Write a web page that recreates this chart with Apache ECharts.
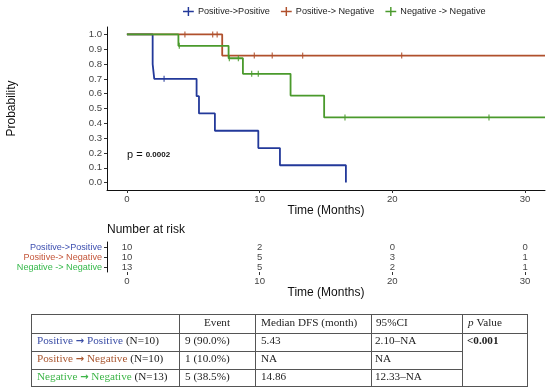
<!DOCTYPE html>
<html><head><meta charset="utf-8">
<script src="https://cdn.jsdelivr.net/npm/echarts@6/dist/echarts.min.js"></script>
<style>html,body{margin:0;padding:0;background:#fff}#c{width:550px;height:392px}</style>
</head><body><div id="c"></div>
<script>
// ---------- data ----------
const groups = ['Positive->Positive', 'Positive-> Negative', 'Negative -> Negative'];
// Kaplan-Meier step points [time (months), survival probability]
const stepsPP = [[0,1],[1.94,0.8],[2.06,0.7],[5.25,0.583],[5.43,0.467],[6.63,0.35],[9.9,0.233],[11.53,0.117],[16.5,0]];
const stepsPN = [[0,1],[7.18,0.857],[31.5,0.857]];
const stepsNN = [[0,1],[3.88,0.923],[7.66,0.839],[8.74,0.734],[12.33,0.587],[14.86,0.44],[31.5,0.44]];
// censor marks [time, survival]
const censorPP = [[2.8,0.7]];
const censorPN = [[4.37,1],[6.46,1],[6.8,1],[9.6,0.857],[10.95,0.857],[13.24,0.857],[20.7,0.857]];
const censorNN = [[3.95,0.923],[7.72,0.839],[8.4,0.839],[9.4,0.734],[9.9,0.734],[16.43,0.44],[27.28,0.44]];
const xTicks = [0, 10, 20, 30];
const yTicks = [0, 0.1, 0.2, 0.3, 0.4, 0.5, 0.6, 0.7, 0.8, 0.9, 1.0];
// number at risk
const riskTimes = [0, 10, 20, 30];
const riskPP = [10, 2, 0, 0];
const riskPN = [10, 5, 3, 1];
const riskNN = [13, 5, 2, 1];
const pText = '0.0002';
// summary table
const tableHeader = ['', 'Event', 'Median DFS (month)', '95%CI', 'p Value'];
const tableGroups = ['Positive \u2192 Positive', 'Positive \u2192 Negative', 'Negative \u2192 Negative'];
const tableN = ['(N=10)', '(N=10)', '(N=13)'];
const tableEvent = ['9 (90.0%)', '1 (10.0%)', '5 (38.5%)'];
const tableMedian = ['5.43', 'NA', '14.86'];
const tableCI = ['2.10\u2013NA', 'NA', '12.33\u2013NA'];
const tablePValue = '<0.001';

// ---------- styles ----------
const lineColors = ['#23399A', '#B0502C', '#4A9A2C'];
const riskColors = ['#3D4FB0', '#C4563A', '#35B84A'];
const tableColors = ['#3A4DA6', '#A8552E', '#3DB548'];
const SANS = 'Liberation Sans, Arial, sans-serif';
const SERIF = 'Liberation Serif, Times New Roman, serif';
const plus = 'path://M0,4.2 H12 V5.8 H0 Z M5.2,0 H6.8 V10 H5.2 Z';

const chart = echarts.init(document.getElementById('c'), null, {renderer: 'canvas'});

const stepData = [stepsPP, stepsPN, stepsNN];
const censorData = [censorPP, censorPN, censorNN];
const riskData = [riskPP, riskPN, riskNN];

const series = [];
groups.forEach((g, i) => {
  series.push({
    name: g, type: 'line', step: 'end', xAxisIndex: 0, yAxisIndex: 0,
    data: stepData[i], showSymbol: false, symbol: 'none',
    lineStyle: {color: lineColors[i], width: 1.8}, itemStyle: {color: lineColors[i]},
    animation: false, z: 2 + i
  });
});
groups.forEach((g, i) => {
  series.push({
    name: g + ' censor', type: 'scatter', xAxisIndex: 0, yAxisIndex: 0,
    data: censorData[i], symbol: 'rect', symbolSize: [1.3, 6],
    itemStyle: {color: lineColors[i]}, animation: false, z: 5 + i
  });
});
groups.forEach((g, i) => {
  series.push({
    name: g + ' risk', type: 'scatter', xAxisIndex: 1, yAxisIndex: 1,
    data: riskTimes.map((t, k) => [t, i, riskData[i][k]]),
    symbol: 'circle', symbolSize: 1, itemStyle: {color: 'rgba(0,0,0,0)'},
    animation: false, silent: true,
    label: {show: true, position: 'inside', formatter: p => String(p.value[2]),
      color: '#111', fontSize: 9.5, fontFamily: SANS}
  });
});

// table graphic
const colX = [31, 179, 255, 371, 462, 527];
const rowY = [314, 332.5, 350.5, 368.5, 386];
const gfx = [];
const stroke = {stroke: '#555', lineWidth: 1};
function hl(x1, x2, y) { gfx.push({type: 'line', shape: {x1, y1: Math.round(y) + 0.5, x2, y2: Math.round(y) + 0.5}, style: stroke, silent: true}); }
function vl(x, y1, y2) { gfx.push({type: 'line', shape: {x1: Math.round(x) + 0.5, y1, x2: Math.round(x) + 0.5, y2}, style: stroke, silent: true}); }
hl(colX[0], colX[5] + 1, rowY[0]);
hl(colX[0], colX[5] + 1, rowY[1]);
hl(colX[0], colX[4], rowY[2]);
hl(colX[0], colX[4], rowY[3]);
hl(colX[0], colX[5] + 1, rowY[4]);
colX.forEach(x => vl(x, rowY[0], rowY[4] + 1));
const FS = 11.2;
function txt(text, x, y, opt) {
  gfx.push({type: 'text', x, y, silent: true, style: Object.assign({text, fontSize: FS, fontFamily: SERIF, fill: '#222', align: 'left', verticalAlign: 'middle'}, opt || {})});
}
const hy = (rowY[0] + rowY[1]) / 2;
txt(tableHeader[1], (colX[1] + colX[2]) / 2, hy, {align: 'center'});
txt(tableHeader[2], colX[2] + 6, hy);
txt(tableHeader[3], colX[3] + 5, hy);
txt('{i|p} ' + tableHeader[4].replace('p ', ''), colX[4] + 6, hy, {rich: {i: {fontStyle: 'italic', fontSize: FS, fontFamily: SERIF, fill: '#222'}}});
for (let r = 0; r < 3; r++) {
  const y = (rowY[r + 1] + rowY[r + 2]) / 2;
  const parts = tableGroups[r].split(' \u2192 ');
  txt('{g|' + parts[0] + ' }{a|\u2192}{g| ' + parts[1] + '} {n|' + tableN[r] + '}', colX[0] + 6, y, {rich: {
    g: {fill: tableColors[r], fontSize: FS, fontFamily: SERIF},
    a: {fill: tableColors[r], fontSize: 10, fontWeight: 'bold', fontFamily: 'DejaVu Sans, sans-serif'},
    n: {fill: '#222', fontSize: FS, fontFamily: SERIF}}});
  txt(tableEvent[r], colX[1] + 6, y);
  txt(tableMedian[r], colX[2] + 6, y);
  txt(tableCI[r], colX[3] + 4, y);
}
txt(tablePValue, colX[4] + 5, (rowY[1] + rowY[2]) / 2, {fontWeight: 'bold'});
// p value in plot
gfx.push({type: 'text', x: 127, y: 155, silent: true, style: {text: '{a|p = }{b|' + pText + '}', verticalAlign: 'middle', align: 'left',
  rich: {a: {fontSize: 11, fontFamily: SANS, fill: '#111'}, b: {fontSize: 8, fontWeight: 'bold', fontFamily: SANS, fill: '#111'}}}});
gfx.push({type: 'text', x: 107, y: 230, silent: true, style: {text: 'Number at risk', fontSize: 12, fontFamily: SANS, fill: '#111', align: 'left', verticalAlign: 'middle'}});

const axisLineStyle = {onZero: false, lineStyle: {color: '#111', width: 1}};
const tickLine = {color: '#333', width: 1};

chart.setOption({
  animation: false,
  backgroundColor: '#fff',
  legend: {
    data: groups.map(n => ({name: n, icon: plus})),
    left: 178, top: 2, itemWidth: 11, itemHeight: 9, itemGap: 11,
    textStyle: {fontSize: 9.1, fontFamily: SANS, color: '#222', padding: [0, 0, 0, -1]}
  },
  grid: [
    {left: 107, right: 5, top: 27, height: 163, containLabel: false, outerBoundsMode: 'none'},
    {left: 107, right: 5, top: 242, height: 30, containLabel: false, outerBoundsMode: 'none'}
  ],
  xAxis: [
    {type: 'value', gridIndex: 0, min: -1.5, max: 31.5,
     axisLine: axisLineStyle, axisTick: {show: true, length: 3, customValues: xTicks, lineStyle: tickLine},
     axisLabel: {customValues: xTicks, fontSize: 9.6, fontFamily: SANS, color: '#444', margin: 4},
     splitLine: {show: false},
     name: 'Time (Months)', nameLocation: 'middle', nameGap: 13,
     nameTextStyle: {fontSize: 12, fontFamily: SANS, color: '#111'}},
    {type: 'value', gridIndex: 1, min: -1.5, max: 31.5,
     axisLine: axisLineStyle, axisTick: {show: true, length: 3, customValues: xTicks, lineStyle: tickLine},
     axisLabel: {customValues: xTicks, fontSize: 9.6, fontFamily: SANS, color: '#444', margin: 4},
     splitLine: {show: false},
     name: 'Time (Months)', nameLocation: 'middle', nameGap: 14,
     nameTextStyle: {fontSize: 12, fontFamily: SANS, color: '#111'}}
  ],
  yAxis: [
    {type: 'value', gridIndex: 0, min: -0.05, max: 1.05,
     axisLine: {show: true, onZero: false, lineStyle: {color: '#111', width: 1}},
     axisTick: {show: true, length: 3, customValues: yTicks, lineStyle: tickLine},
     axisLabel: {customValues: yTicks, formatter: v => Number(v).toFixed(1), fontSize: 9.6, fontFamily: SANS, color: '#444', margin: 5},
     splitLine: {show: false},
     name: 'Probability', nameLocation: 'middle', nameGap: 89, nameRotate: 90,
     nameTextStyle: {fontSize: 12, fontFamily: SANS, color: '#111'}},
    {type: 'category', gridIndex: 1, data: groups, inverse: true,
     axisLine: {show: true, onZero: false, lineStyle: {color: '#111', width: 1}},
     axisTick: {show: true, length: 3, alignWithLabel: true, interval: 0, lineStyle: tickLine},
     axisLabel: {interval: 0, hideOverlap: false, fontSize: 9.1, fontFamily: SANS, margin: 5, color: (v, i) => riskColors[groups.indexOf(v)]},
     splitLine: {show: false}}
  ],
  series: series,
  graphic: gfx
});
</script>
</body></html>
